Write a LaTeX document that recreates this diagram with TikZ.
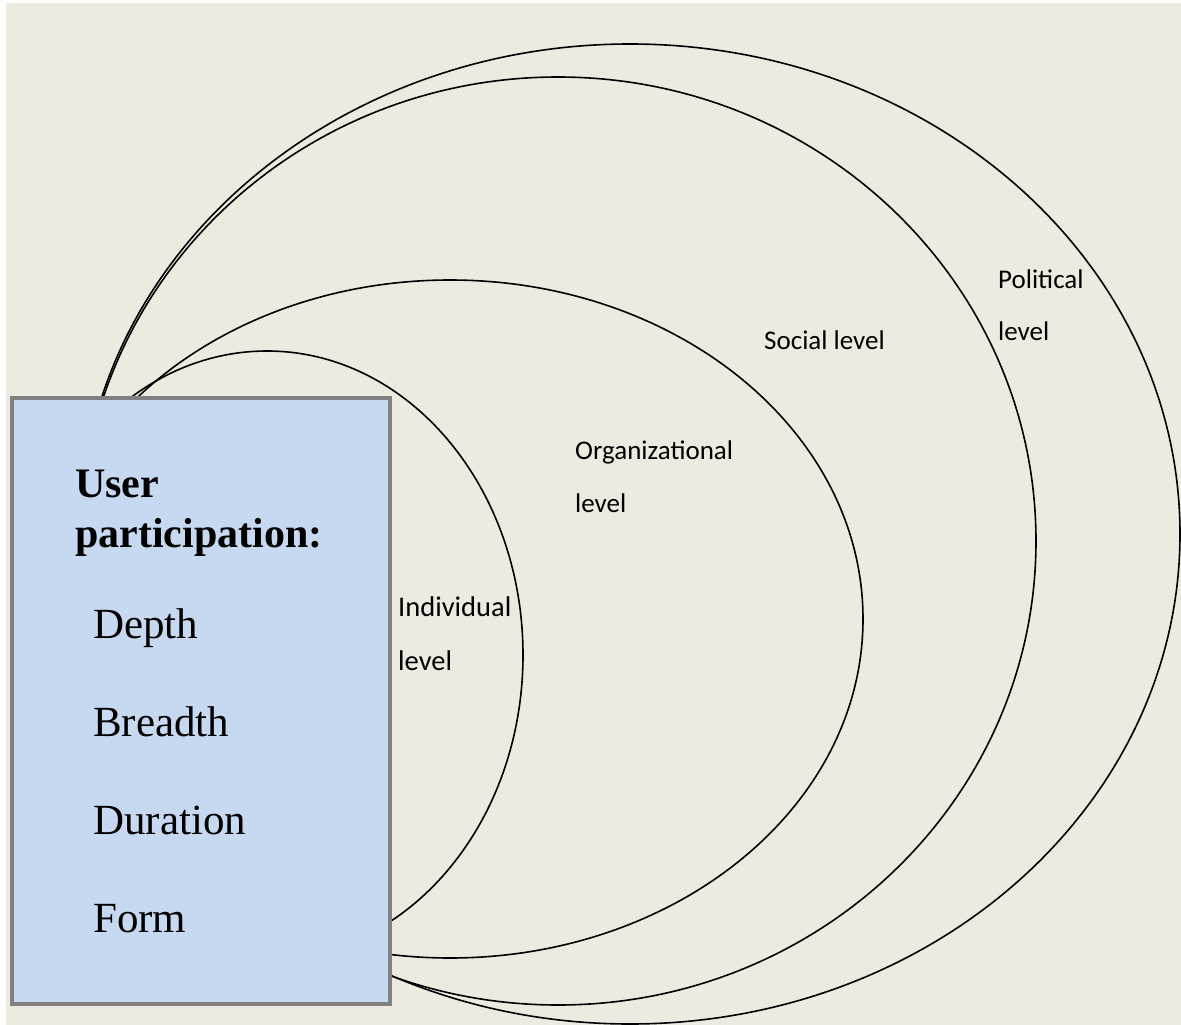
\documentclass[tikz,border=0pt]{standalone}
\usepackage{fontspec}
\setmainfont{Liberation Serif}
\newfontfamily\labelfont{Carlito}
\usetikzlibrary{shapes.geometric}

\definecolor{paper}{HTML}{EDEBE0}
\definecolor{boxfill}{HTML}{C6D9F1}
\definecolor{boxline}{HTML}{808080}

\tikzset{
  ring/.style={ellipse, draw=black, line width=1.6pt, inner sep=0pt, outer sep=0pt},
  partbox/.style={draw=boxline, fill=boxfill, line width=3.5pt},
  levellabel/.style={anchor=base west, inner sep=0pt, font=\labelfont\fontsize{27}{32}\selectfont},
  headtext/.style={anchor=base west, inner sep=0pt, font=\bfseries\fontsize{42}{48}\selectfont},
  itemtext/.style={anchor=base west, inner sep=0pt, font=\fontsize{43}{50}\selectfont}
}

\begin{document}
\begin{tikzpicture}[x=1pt, y=-1pt]
  % page and paper
  \useasboundingbox (0,0) rectangle (1181,1025);
  \fill[white] (0,0) rectangle (1181,1025);
  \fill[paper] (6,3) rectangle (1182,1026);

  % nested levels, outermost first
  \node[ring, minimum width=1100pt, minimum height=980pt] (political) at (630,534) {};
  \node[ring, minimum width=956pt, minimum height=928pt] (social) at (558,541) {};
  \node[ring, minimum width=826pt, minimum height=678pt] (organizational) at (450,619) {};
  \node[ring, minimum width=512pt, minimum height=608pt] (individual) at (267,655) {};

  % participation box on top of the rings
  \path[partbox] (12,398) rectangle (390,1004);

  \node[headtext] (user) at (75,497) {User};
  \node[headtext] (participation) at (75,547) {participation:};
  \node[itemtext] (depth) at (93,638) {Depth};
  \node[itemtext] (breadth) at (93,736) {Breadth};
  \node[itemtext] (duration) at (93,834) {Duration};
  \node[itemtext] (form) at (93,932) {Form};

  % level labels
  \node[levellabel, font=\labelfont\fontsize{28.5}{34}\selectfont] (indiv1) at (398,616) {Individual};
  \node[levellabel, font=\labelfont\fontsize{28.5}{34}\selectfont] (indiv2) at (398,670) {level};
  \node[levellabel] (org1) at (575,459) {Organizational};
  \node[levellabel] (org2) at (575,512) {level};
  \node[levellabel] (soc) at (764,349) {Social level};
  \node[levellabel] (pol1) at (998,288) {Political};
  \node[levellabel] (pol2) at (998,340) {level};
\end{tikzpicture}
\end{document}
